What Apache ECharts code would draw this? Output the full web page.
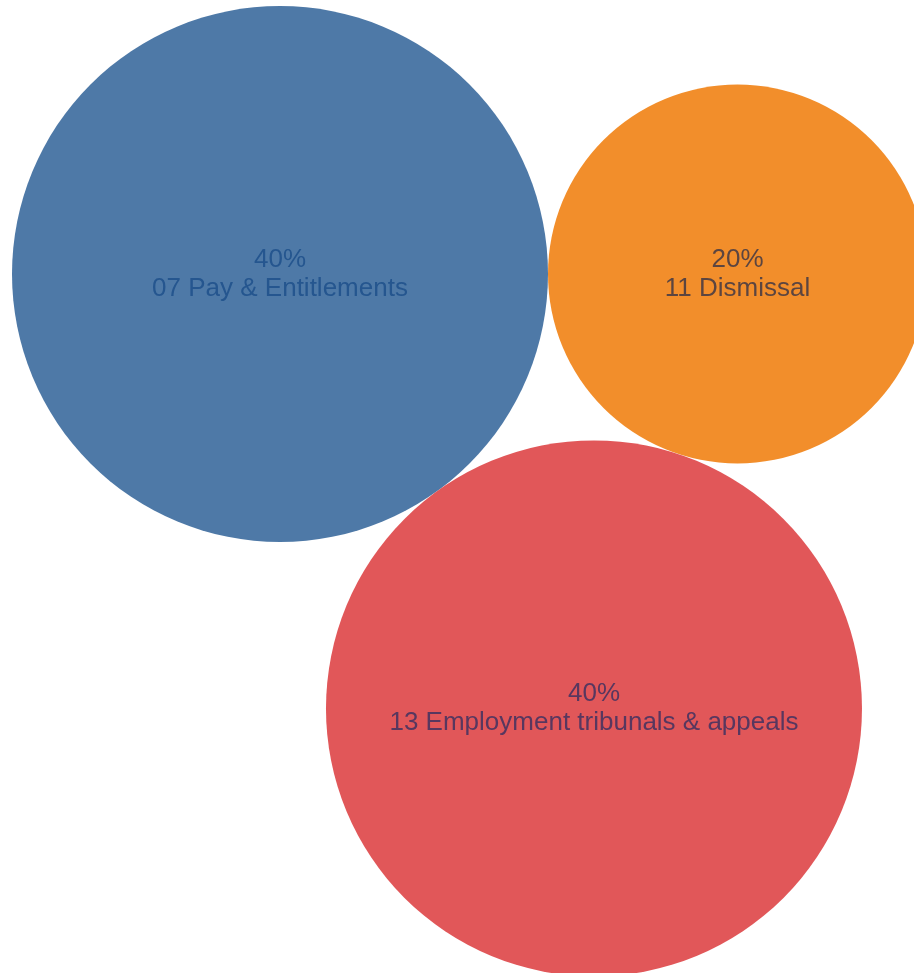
<!DOCTYPE html>
<html>
<head>
<meta charset="utf-8">
<script src="https://cdn.jsdelivr.net/npm/echarts@6/dist/echarts.min.js"></script>
<style>
  html, body { margin: 0; padding: 0; background: #ffffff; }
  #chart { width: 914px; height: 973px; }
</style>
</head>
<body>
<div id="chart"></div>
<script>
// Share of cases by topic
const categories = ['07 Pay & Entitlements', '11 Dismissal', '13 Employment tribunals & appeals'];
const shares = [40, 20, 40];

// Bubble fills and label colours, one per category
const fills = ['#4e79a7', '#f28e2b', '#e15759'];
const labelColors = ['#25568f', '#5c4540', '#58375f'];

// Bubble area is proportional to the share
const W = 914, H = 973;
const radiusPerRootUnit = 268 / Math.sqrt(40);
const radii = shares.map(v => radiusPerRootUnit * Math.sqrt(v));

// Packed layout: first bubble anchored, second touching it on the right,
// third tucked underneath touching both.
const anchor = [280, 274];
function packBubbles(r) {
  const c0 = anchor;
  const d01 = r[0] + r[1];
  const c1 = [c0[0] + d01, c0[1]];
  const d02 = r[0] + r[2];
  const d12 = r[1] + r[2];
  const a = (d02 * d02 - d12 * d12 + d01 * d01) / (2 * d01);
  const h = Math.sqrt(Math.max(0, d02 * d02 - a * a));
  const ux = (c1[0] - c0[0]) / d01, uy = (c1[1] - c0[1]) / d01;
  // perpendicular pointing down the page
  const c2 = [c0[0] + a * ux - h * uy, c0[1] + a * uy + h * ux];
  return [c0, c1, c2];
}
const centers = packBubbles(radii);

const seriesData = categories.map((name, i) => ({
  name: name,
  value: [centers[i][0], centers[i][1], shares[i]],
  symbolSize: radii[i] * 2,
  itemStyle: { color: fills[i] },
  label: { color: labelColors[i] }
}));

const chart = echarts.init(document.getElementById('chart'), null, { renderer: 'canvas' });
chart.setOption({
  animation: false,
  backgroundColor: '#ffffff',
  grid: { left: 0, right: 0, top: 0, bottom: 0 },
  xAxis: { type: 'value', min: 0, max: W, show: false },
  yAxis: { type: 'value', min: 0, max: H, inverse: true, show: false },
  series: [{
    type: 'scatter',
    symbol: 'circle',
    data: seriesData,
    itemStyle: { opacity: 1 },
    emphasis: { disabled: true },
    label: {
      show: true,
      position: 'inside',
      fontFamily: '"Liberation Sans", Arial, sans-serif',
      fontSize: 26,
      lineHeight: 29,
      align: 'center',
      formatter: p => p.value[2] + '%\n' + p.name
    }
  }]
});
</script>
</body>
</html>
